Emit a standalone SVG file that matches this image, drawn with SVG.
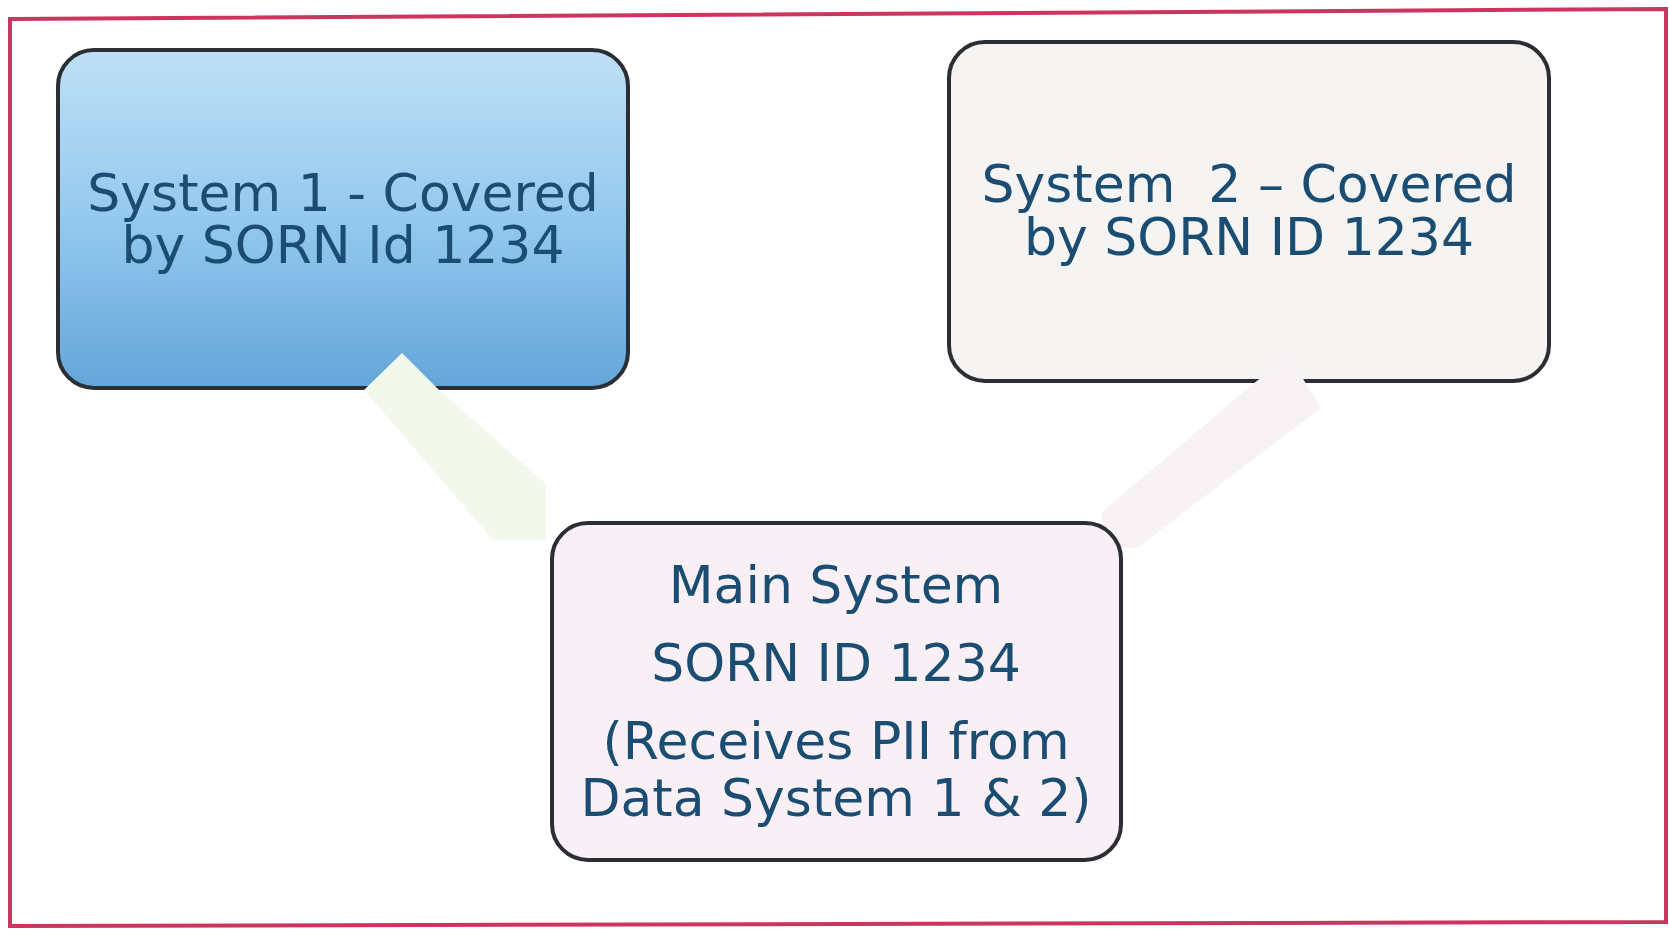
<svg xmlns="http://www.w3.org/2000/svg" width="1669" height="929" viewBox="0 0 1669 929">
<style>
.box{stroke:#2b2f33;stroke-width:4}
.t{font-family:"DejaVu Sans","Verdana",sans-serif;font-size:52px;fill:#1b4d72;text-anchor:middle}
</style>
<defs>
<linearGradient id="g1" x1="0" y1="0" x2="0" y2="1">
<stop offset="0" stop-color="#bfe0f6"/>
<stop offset="0.5" stop-color="#94c9ee"/>
<stop offset="1" stop-color="#64a5da"/>
</linearGradient>
</defs>
<rect x="0" y="0" width="1669" height="929" fill="#ffffff"/>
<g id="frame" fill="none">
<polygon points="10,19 1666,9 1666,922 10,926" stroke="#cc3560" stroke-width="4"/>
</g>
<g id="system1">
<rect class="box" x="58" y="50" width="570" height="338" rx="36" fill="url(#g1)"/>
<text class="t" x="343" y="211">System 1 - Covered</text>
<text class="t" x="343" y="263">by SORN Id 1234</text>
</g>
<g id="system2">
<rect class="box" x="949" y="42" width="600" height="339" rx="36" fill="#f5f4f2"/>
<text class="t" x="1249" y="202" xml:space="preserve">System  2 – Covered</text>
<text class="t" x="1249" y="255">by SORN ID 1234</text>
</g>
<g id="connectors">
<polygon points="402,353 364,390 493,540 546,540 546,484 438,389" fill="#f3f8ec"/>
<polygon points="1289,356 1321,408 1137,548 1102,548 1102,512 1253,384" fill="#f8f2f5"/>
</g>
<g id="main">
<rect class="box" x="552" y="523" width="569" height="337" rx="36" fill="#f8f0f4"/>
<text class="t" x="836" y="603">Main System</text>
<text class="t" x="836" y="681">SORN ID 1234</text>
<text class="t" x="836" y="759">(Receives PII from</text>
<text class="t" x="836" y="816">Data System 1 &amp; 2)</text>
</g>
</svg>
